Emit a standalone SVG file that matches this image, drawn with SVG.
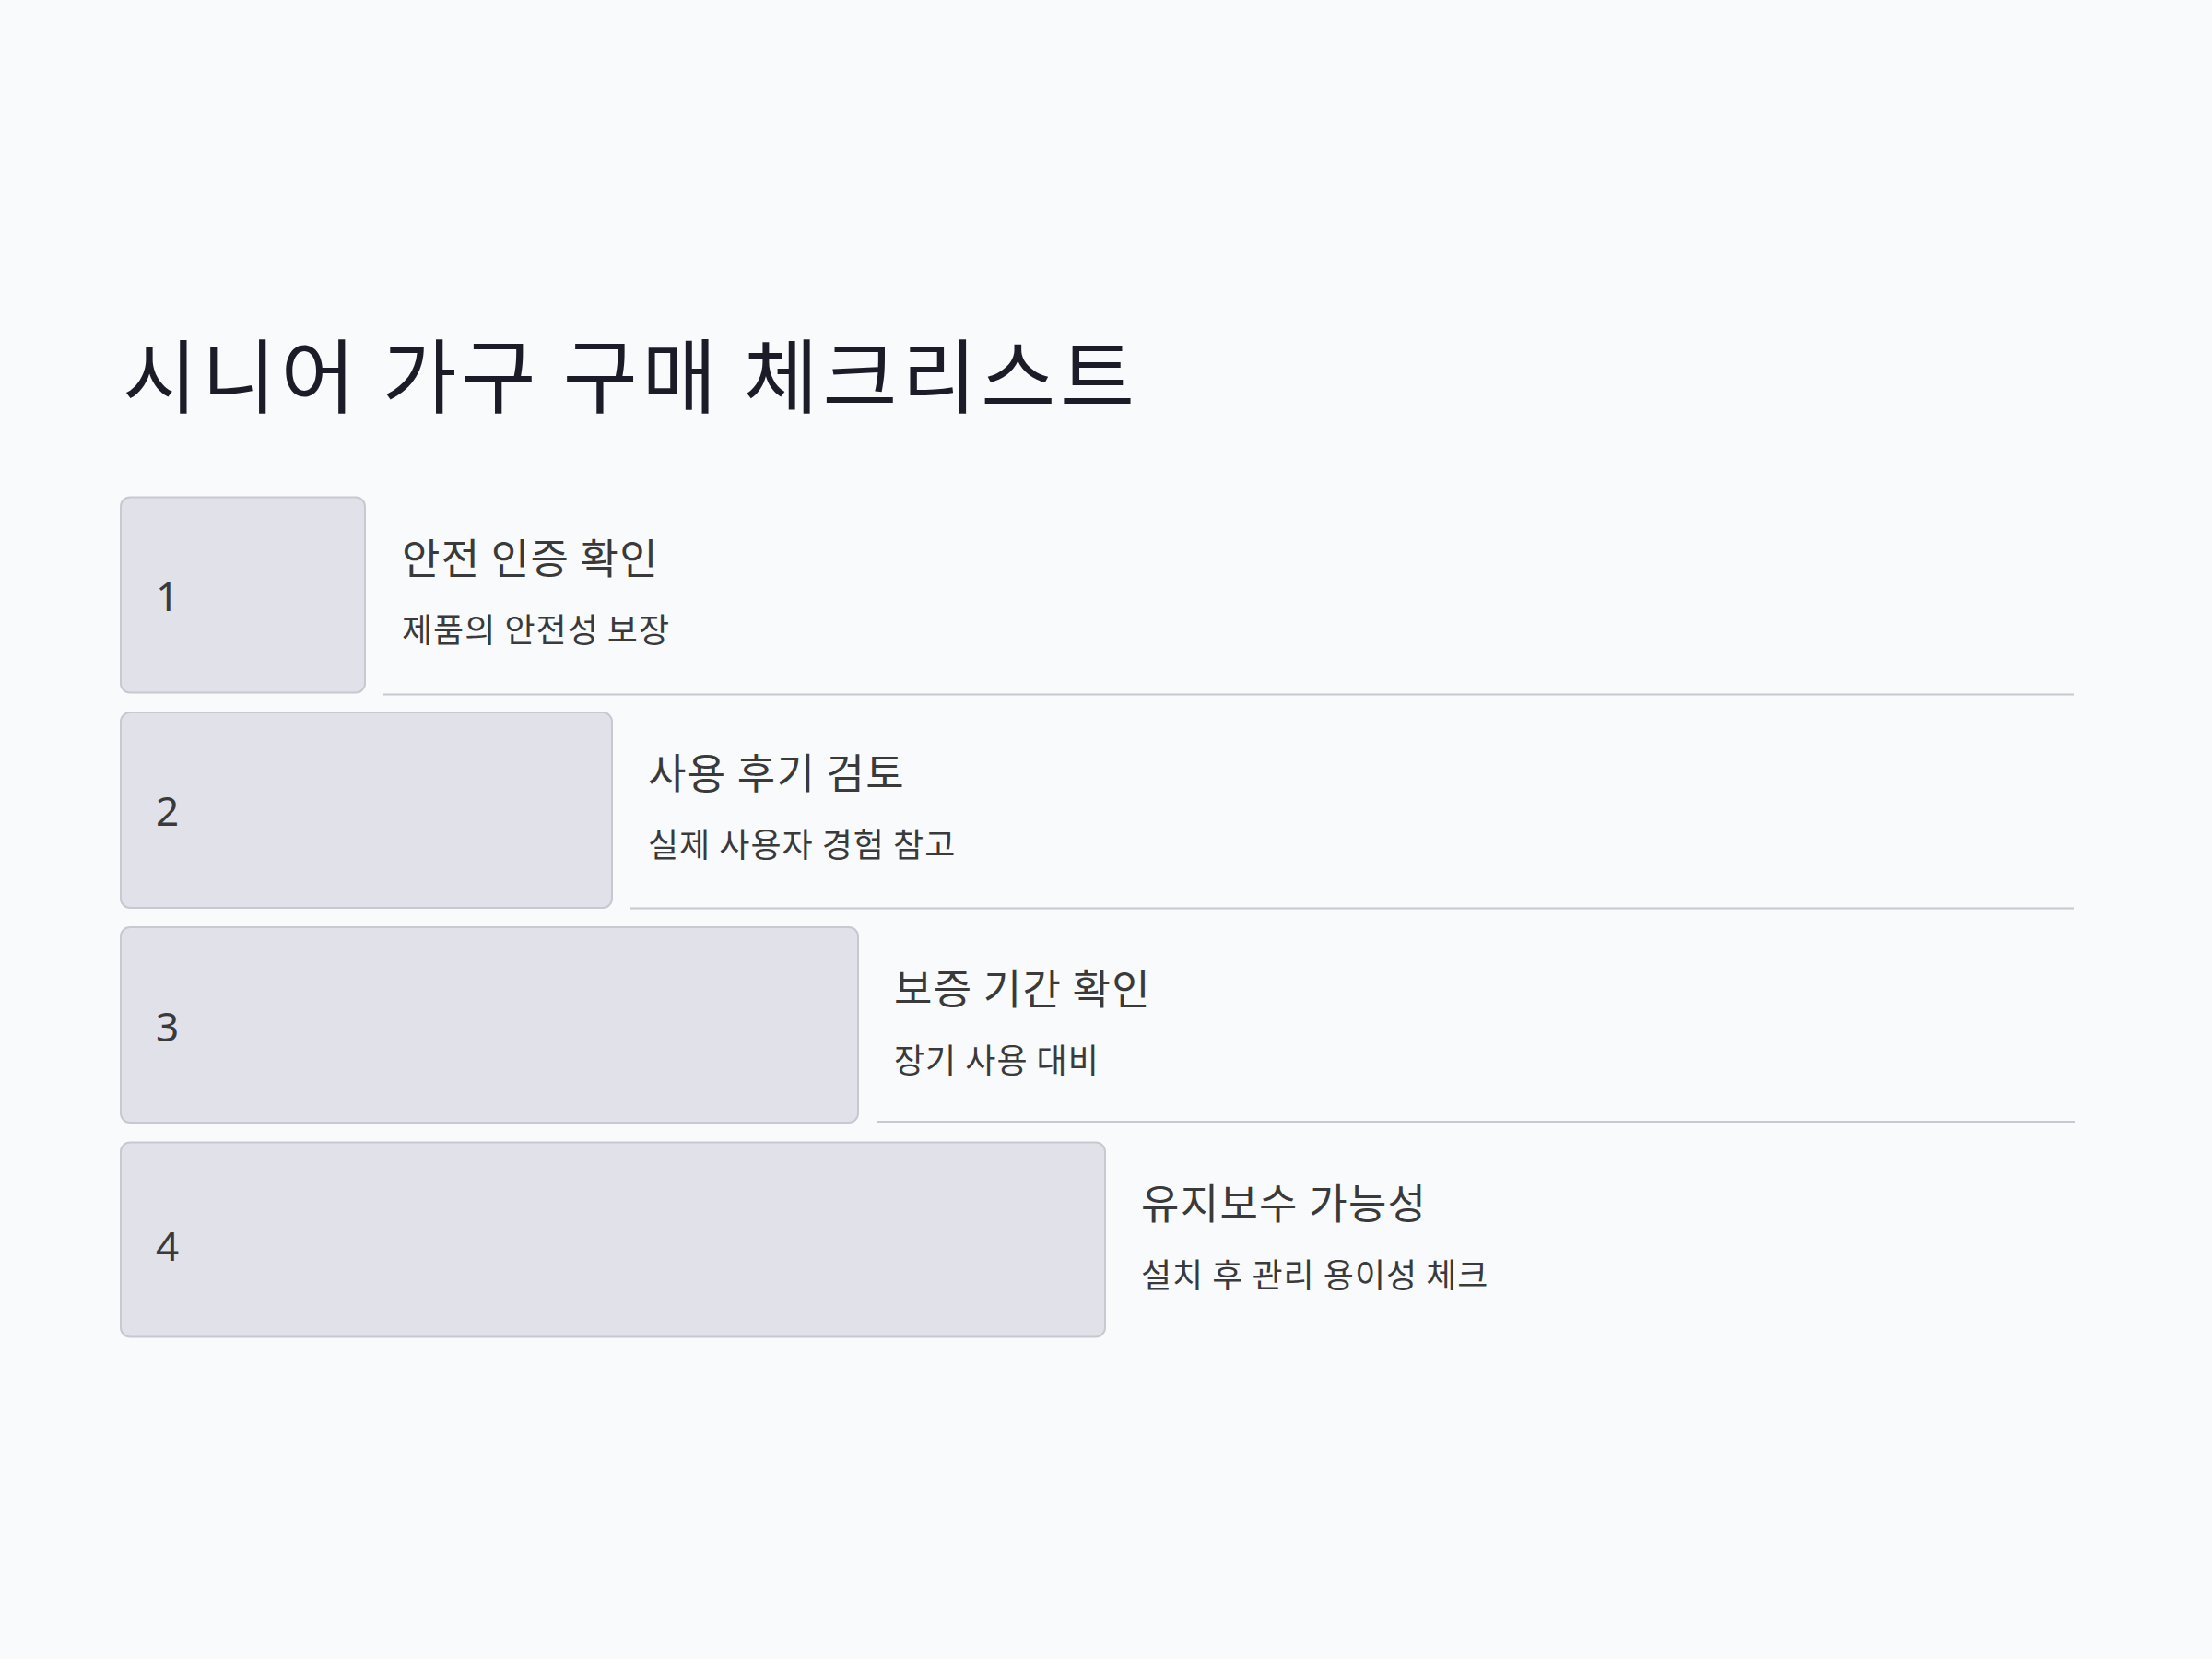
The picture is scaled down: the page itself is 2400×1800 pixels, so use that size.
<svg xmlns="http://www.w3.org/2000/svg" width="2400" height="1800" viewBox="0 0 2400 1800">
<style>
.bg{fill:#f9fafc}
.title{font-family:"Noto Sans CJK KR","Noto Sans",sans-serif;font-size:88px;letter-spacing:4.8px;fill:#1c1c28}
.box{fill:#e1e1e9;stroke:#c8c8d0;stroke-width:2}
.num{font-family:"Noto Sans","Liberation Sans",sans-serif;font-size:44px;fill:#3a3a3a}
.head{font-family:"Noto Sans CJK KR","Noto Sans",sans-serif;font-size:45px;letter-spacing:1.3px;fill:#3a3a3a}
.sub{font-family:"Noto Sans CJK KR","Noto Sans",sans-serif;font-size:36px;letter-spacing:1px;fill:#3a3a3a}
.sep{stroke:#c8c8d0;stroke-width:2}
</style>
<rect class="bg" x="0" y="0" width="2400" height="1800"/>
<text class="title" x="133" y="441">시니어 가구 구매 체크리스트</text>
<g id="connectors">
<line class="sep" x1="416" y1="753.5" x2="2250" y2="753.5"/>
<line class="sep" x1="684" y1="985.5" x2="2250" y2="985.5"/>
<line class="sep" x1="951" y1="1217" x2="2251" y2="1217"/>
</g>
<g id="step1">
<rect class="box" x="131" y="539.5" width="265" height="212" rx="10"/>
<text class="num" x="169" y="663">1</text>
<text class="head" x="436" y="623">안전 인증 확인</text>
<text class="sub" x="436" y="697">제품의 안전성 보장</text>
</g>
<g id="step2">
<rect class="box" x="131" y="773" width="533" height="212" rx="10"/>
<text class="num" x="169" y="896">2</text>
<text class="head" x="703" y="856">사용 후기 검토</text>
<text class="sub" x="703" y="930">실제 사용자 경험 참고</text>
</g>
<g id="step3">
<rect class="box" x="131" y="1006" width="800" height="212" rx="10"/>
<text class="num" x="169" y="1130">3</text>
<text class="head" x="970" y="1090">보증 기간 확인</text>
<text class="sub" x="970" y="1164">장기 사용 대비</text>
</g>
<g id="step4">
<rect class="box" x="131" y="1239.5" width="1068" height="211" rx="10"/>
<text class="num" x="169" y="1368">4</text>
<text class="head" x="1238" y="1323">유지보수 가능성</text>
<text class="sub" x="1238" y="1397">설치 후 관리 용이성 체크</text>
</g>
</svg>
